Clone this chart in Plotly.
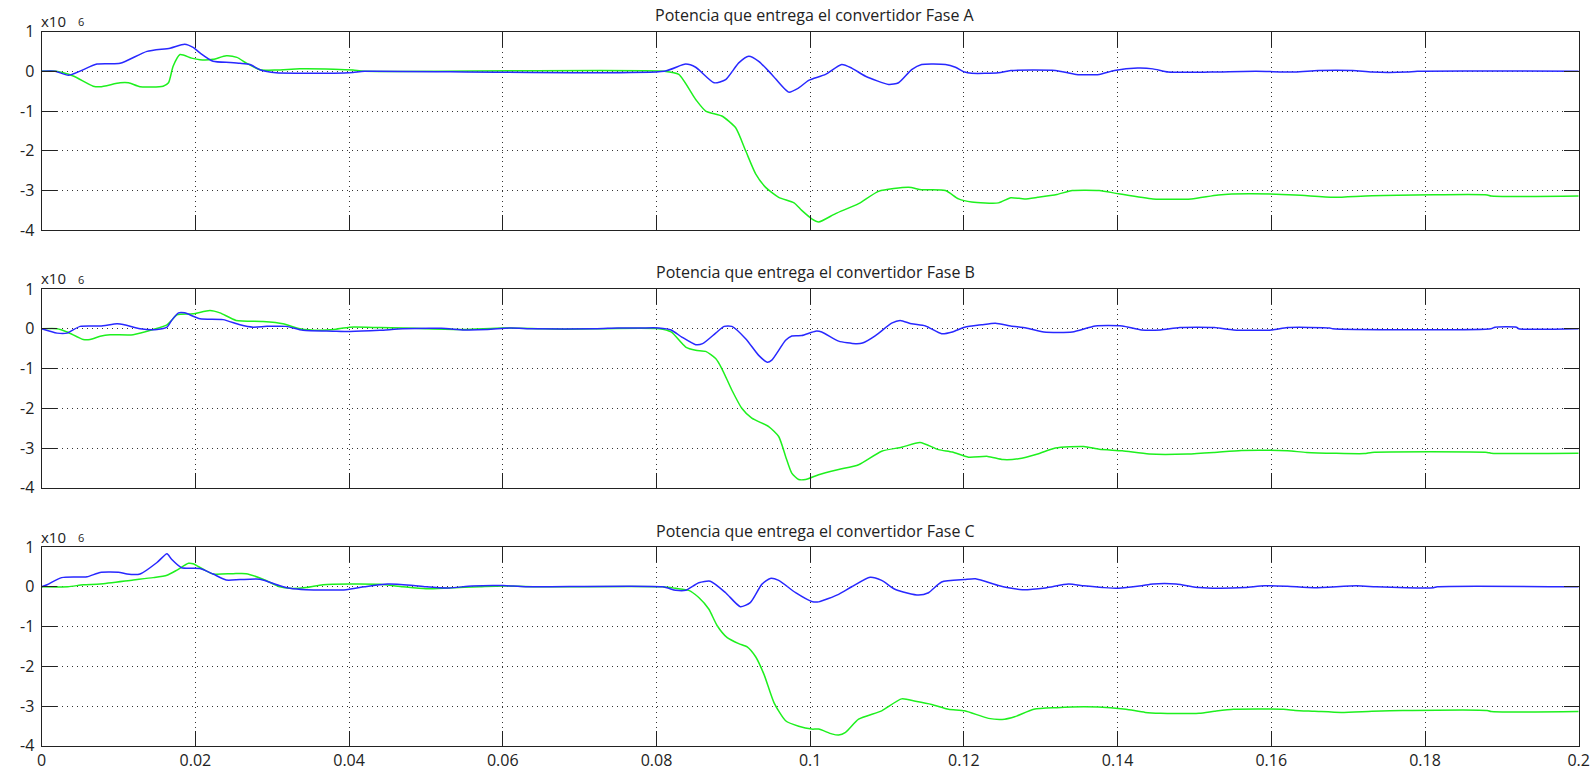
import plotly.graph_objects as go

# Time axis ticks (s)
x_ticks = [0, 0.02, 0.04, 0.06, 0.08, 0.10, 0.12, 0.14, 0.16, 0.18, 0.20]
x_tick_labels = ["0", "0.02", "0.04", "0.06", "0.08", "0.1", "0.12", "0.14", "0.16", "0.18", "0.2"]
y_ticks = [1, 0, -1, -2, -3, -4]
y_tick_labels = ["1", "0", "-1", "-2", "-3", "-4"]

titles = [
    "Potencia que entrega el convertidor Fase A",
    "Potencia que entrega el convertidor Fase B",
    "Potencia que entrega el convertidor Fase C",
]

# ---- Fase A (values in units of 10^6) ----
ta_blue = [0, 0.00175, 0.0035, 0.0072, 0.0102, 0.0137, 0.0167, 0.0186, 0.0197, 0.0206, 0.0223,
           0.0245, 0.0258, 0.0271, 0.0284, 0.0305, 0.0336, 0.038, 0.0405, 0.042, 0.081,
           0.0838, 0.0851, 0.0875, 0.089, 0.0907, 0.092, 0.0933, 0.095, 0.0972, 0.0985,
           0.0998, 0.102, 0.1041, 0.1054, 0.1072, 0.1102, 0.1115, 0.1132, 0.1145, 0.1176,
           0.1189, 0.1201, 0.121, 0.1245, 0.1261, 0.1319, 0.1346, 0.1376, 0.1396, 0.1426,
           0.1446, 0.1466, 0.1521, 0.158, 0.1631, 0.1661, 0.1706, 0.1731, 0.1776, 0.179, 0.2]
pa_blue = [0, 0.0, -0.1, 0.18, 0.2, 0.5, 0.58, 0.68, 0.6, 0.46, 0.25,
           0.22, 0.2, 0.17, 0.04, -0.04, -0.05, -0.05, -0.03, 0, 0,
           0.18, 0.1, -0.29, -0.21, 0.21, 0.375, 0.25, -0.08, -0.525, -0.42,
           -0.23, -0.08, 0.17, 0.08, -0.125, -0.33, -0.29, 0.04, 0.17, 0.17,
           0.1, -0.02, -0.05, -0.04, 0.02, 0.02, -0.08, -0.08, 0.02, 0.08,
           0.06, -0.02, -0.02, 0, -0.02, 0.02, 0.02, -0.02, -0.02, 0, 0]

ta_green = [0, 0.0019, 0.0041, 0.0067, 0.0076, 0.0102, 0.0113, 0.0128, 0.0158, 0.0165, 0.0171,
            0.018, 0.0195, 0.0206, 0.0223, 0.024, 0.0254, 0.0266, 0.0284, 0.0305, 0.0336,
            0.038, 0.0405, 0.042, 0.081, 0.0829, 0.0851, 0.0864, 0.0885, 0.0903, 0.0916,
            0.0929, 0.0942, 0.0959, 0.0979, 0.0989, 0.1002, 0.1011, 0.1033, 0.1063, 0.1089,
            0.1128, 0.1145, 0.1176, 0.1193, 0.121, 0.1245, 0.1261, 0.1279, 0.1296, 0.1321,
            0.1341, 0.1376, 0.1401, 0.1446, 0.1496, 0.1531, 0.1571, 0.1631, 0.1681, 0.1731,
            0.1881, 0.1886, 0.2]
pa_green = [0, 0, -0.12, -0.375, -0.39, -0.29, -0.29, -0.39, -0.375, -0.29, 0.125,
            0.42, 0.33, 0.29, 0.3, 0.39, 0.35, 0.21, 0.04, 0.03, 0.06,
            0.05, 0.03, 0, 0, -0.08, -0.71, -1.0, -1.125, -1.42, -2.0,
            -2.58, -2.92, -3.17, -3.31, -3.5, -3.71, -3.79, -3.58, -3.33, -3.02,
            -2.92, -2.98, -3.0, -3.21, -3.29, -3.31, -3.18, -3.21, -3.17, -3.1,
            -3.0, -3.0, -3.08, -3.21, -3.21, -3.11, -3.08, -3.11, -3.17, -3.13,
            -3.11, -3.14, -3.14]

# ---- Fase B ----
tb_blue = [0, 0.002, 0.0033, 0.005, 0.0076, 0.0098, 0.0106, 0.0128, 0.015, 0.0163, 0.0169,
           0.0178, 0.0186, 0.0206, 0.0236, 0.0258, 0.0275, 0.0293, 0.0318, 0.034, 0.0379,
           0.0401, 0.044, 0.047, 0.052, 0.055, 0.058, 0.061, 0.064, 0.072, 0.075, 0.078,
           0.0803, 0.0819, 0.0833, 0.0851, 0.086, 0.0877, 0.0888, 0.0898, 0.0916, 0.0933,
           0.0944, 0.095, 0.0968, 0.0976, 0.0989, 0.1007, 0.1015, 0.1037, 0.1059, 0.1068,
           0.1085, 0.1106, 0.1117, 0.1132, 0.115, 0.1171, 0.1185, 0.1201, 0.1223, 0.1241,
           0.1261, 0.1281, 0.1304, 0.1341, 0.1371, 0.1406, 0.1431, 0.1456, 0.1481, 0.1526,
           0.1551, 0.1601, 0.1621, 0.1676, 0.168, 0.1886, 0.1891, 0.1919, 0.1922, 0.2]
pb_blue = [0, -0.11, -0.11, 0.06, 0.07, 0.125, 0.11, 0, -0.02, 0.04, 0.21,
           0.4, 0.4, 0.25, 0.23, 0.1, 0.04, 0.06, 0.06, -0.04, -0.06,
           -0.07, -0.04, 0, 0.01, -0.03, -0.02, 0.02, 0, 0, 0.02, 0.02,
           0.02, -0.03, -0.21, -0.4, -0.375, -0.11, 0.06, 0.06, -0.25, -0.67,
           -0.84, -0.79, -0.29, -0.18, -0.17, -0.06, -0.08, -0.31, -0.375, -0.36,
           -0.17, 0.14, 0.21, 0.125, 0.07, -0.125, -0.08, 0.04, 0.1, 0.14,
           0.07, 0.02, -0.08, -0.08, 0.07, 0.07, -0.03, -0.03, 0.03, 0.03,
           -0.03, -0.03, 0.03, 0.02, 0, 0, 0.04, 0.04, 0, 0]

tb_green = [0, 0.002, 0.0033, 0.0054, 0.0063, 0.0076, 0.0089, 0.0119, 0.0145, 0.0163, 0.0169,
            0.0176, 0.0197, 0.0219, 0.0232, 0.0253, 0.0288, 0.0314, 0.0336, 0.0362, 0.038,
            0.0401, 0.044, 0.047, 0.05, 0.055, 0.06, 0.065, 0.068, 0.072, 0.0803, 0.0819,
            0.0838, 0.0851, 0.0864, 0.0877, 0.0885, 0.0898, 0.0911, 0.0924, 0.0946, 0.0959,
            0.0968, 0.0976, 0.0985, 0.0994, 0.1011, 0.1037, 0.1063, 0.1093, 0.1119, 0.1143,
            0.1167, 0.1185, 0.1206, 0.1231, 0.1251, 0.1271, 0.1296, 0.1319, 0.1356, 0.1376,
            0.1406, 0.1441, 0.1491, 0.1526, 0.1561, 0.1621, 0.1646, 0.1721, 0.1731, 0.1881,
            0.1886, 0.2]
pb_green = [0, 0, -0.08, -0.27, -0.27, -0.19, -0.15, -0.15, -0.02, 0.1, 0.21,
            0.35, 0.375, 0.46, 0.4, 0.21, 0.18, 0.125, 0, -0.04, -0.02,
            0.04, 0.03, 0.02, 0, -0.02, 0.02, 0, -0.01, 0, 0, -0.08,
            -0.46, -0.54, -0.57, -0.75, -1.0, -1.54, -2.0, -2.25, -2.46, -2.71,
            -3.21, -3.63, -3.79, -3.79, -3.67, -3.54, -3.42, -3.08, -2.98, -2.86,
            -3.04, -3.1, -3.23, -3.21, -3.29, -3.27, -3.15, -3.0, -2.96, -3.03,
            -3.07, -3.15, -3.15, -3.11, -3.06, -3.07, -3.11, -3.14, -3.11, -3.11,
            -3.13, -3.13]

# ---- Fase C ----
tc_blue = [0, 0.0007, 0.0026, 0.0059, 0.0076, 0.0102, 0.0111, 0.0128, 0.015, 0.0163, 0.0169,
           0.0182, 0.0206, 0.0223, 0.024, 0.0258, 0.0284, 0.031, 0.0323, 0.0344, 0.0396,
           0.042, 0.045, 0.048, 0.05, 0.053, 0.056, 0.06, 0.063, 0.0808, 0.0825, 0.0838,
           0.0855, 0.087, 0.089, 0.0909, 0.0922, 0.0937, 0.0948, 0.0959, 0.0981, 0.1002,
           0.1011, 0.1037, 0.1054, 0.1078, 0.1093, 0.1111, 0.1141, 0.1154, 0.1171, 0.1201,
           0.1215, 0.1245, 0.1256, 0.1276, 0.1306, 0.1336, 0.1356, 0.1381, 0.1401, 0.1431,
           0.1446, 0.1476, 0.1506, 0.1531, 0.1566, 0.1591, 0.1621, 0.1656, 0.1711, 0.1736,
           0.1776, 0.1811, 0.1816, 0.2]
pc_blue = [0, 0.05, 0.23, 0.25, 0.36, 0.36, 0.32, 0.32, 0.61, 0.83, 0.69,
           0.48, 0.46, 0.32, 0.17, 0.18, 0.19, 0.025, -0.04, -0.075, -0.075,
           0, 0.07, 0.04, 0, -0.03, 0.02, 0.03, 0, 0, -0.09, -0.09,
           0.1, 0.14, -0.15, -0.5, -0.4, 0.06, 0.21, 0.16, -0.15, -0.37,
           -0.38, -0.19, 0, 0.24, 0.16, -0.07, -0.21, -0.15, 0.12, 0.18,
           0.2, 0.03, -0.02, -0.075, -0.03, 0.07, 0.025, -0.02, -0.04, 0.025,
           0.07, 0.07, -0.02, -0.04, -0.02, 0.025, 0.01, -0.025, 0.025, 0,
           -0.025, -0.025, 0, 0]

tc_green = [0, 0.0034, 0.0054, 0.0076, 0.0119, 0.0145, 0.0163, 0.0176, 0.0191, 0.0197, 0.021,
            0.0223, 0.0249, 0.0266, 0.0288, 0.031, 0.0323, 0.0344, 0.0366, 0.0401, 0.044,
            0.047, 0.05, 0.053, 0.057, 0.06, 0.064, 0.0808, 0.0825, 0.0842, 0.0855, 0.0868,
            0.0879, 0.0892, 0.0907, 0.0918, 0.0929, 0.094, 0.0953, 0.0968, 0.0985, 0.1002,
            0.1011, 0.1028, 0.1037, 0.1046, 0.1063, 0.1093, 0.1119, 0.1137, 0.1158, 0.118,
            0.1201, 0.1232, 0.1253, 0.1266, 0.1291, 0.1321, 0.1356, 0.1391, 0.1411, 0.1436,
            0.1456, 0.1506, 0.1526, 0.1551, 0.1616, 0.1631, 0.1656, 0.1691, 0.1731, 0.1771,
            0.1881, 0.1886, 0.2]
pc_green = [0, 0, 0.05, 0.07, 0.17, 0.23, 0.29, 0.42, 0.59, 0.58, 0.44,
            0.32, 0.33, 0.33, 0.19, 0, -0.04, -0.02, 0.05, 0.07, 0.06,
            0, -0.05, -0.03, 0, 0.02, 0, 0, -0.04, -0.09, -0.27, -0.56,
            -0.98, -1.28, -1.43, -1.51, -1.76, -2.21, -2.92, -3.37, -3.51, -3.58,
            -3.58, -3.7, -3.73, -3.66, -3.33, -3.12, -2.82, -2.88, -2.96, -3.08,
            -3.12, -3.31, -3.33, -3.27, -3.08, -3.04, -3.02, -3.04, -3.08, -3.16,
            -3.18, -3.18, -3.13, -3.08, -3.08, -3.11, -3.13, -3.16, -3.13, -3.11,
            -3.11, -3.14, -3.14]

BLUE = "rgb(40,40,255)"
GREEN = "rgb(30,240,30)"
INK = "#222222"
FONT = "Open Sans"

W, H = 1594, 772
plot_left, plot_right = 41.7, 1578.7
panel_tops = [31.5, 289.0, 547.0]
panel_height = 198.8

series = [
    (ta_blue, pa_blue, ta_green, pa_green),
    (tb_blue, pb_blue, tb_green, pb_green),
    (tc_blue, pc_blue, tc_green, pc_green),
]

fig = go.Figure()
layout = dict(
    width=W, height=H,
    margin=dict(l=0, r=0, t=0, b=0),
    paper_bgcolor="white", plot_bgcolor="white",
    showlegend=False,
    font=dict(family=FONT, color=INK, size=16),
    annotations=[],
)

xdom = [plot_left / W, plot_right / W]
for i, (tb, pb, tg, pg) in enumerate(series):
    n = "" if i == 0 else str(i + 1)
    fig.add_trace(go.Scatter(x=tg, y=pg, mode="lines", line=dict(color=GREEN, width=1.5, shape="spline", smoothing=0.6),
                             xaxis="x" + n, yaxis="y" + n, hoverinfo="skip"))
    fig.add_trace(go.Scatter(x=tb, y=pb, mode="lines", line=dict(color=BLUE, width=1.5, shape="spline", smoothing=0.6),
                             xaxis="x" + n, yaxis="y" + n, hoverinfo="skip"))

    top = panel_tops[i]
    bottom = top + panel_height
    ydom = [1 - bottom / H, 1 - top / H]
    common = dict(
        showline=True, linecolor=INK, linewidth=1.3, mirror="ticks",
        ticks="inside", ticklen=15, tickwidth=1.3, tickcolor=INK,
        showgrid=True, gridcolor="#333333", gridwidth=1, griddash="1px,4px",
        zeroline=False, automargin=False, fixedrange=True,
        tickfont=dict(family=FONT, size=16, color=INK),
    )
    layout["xaxis" + n] = dict(
        common, domain=xdom, range=[0, 0.2], tickmode="array",
        tickvals=x_ticks, ticktext=x_tick_labels,
        showticklabels=(i == 2), anchor="y" + n,
    )
    layout["yaxis" + n] = dict(
        common, domain=ydom, range=[-4, 1], tickmode="array",
        tickvals=y_ticks, ticktext=y_tick_labels, anchor="x" + n,
        ticklabelstandoff=3,
    )
    # panel title
    layout["annotations"].append(dict(
        text=titles[i], xref="paper", yref="paper",
        x=815 / W, y=1 - (top - 16.5) / H,
        xanchor="center", yanchor="middle", showarrow=False,
        font=dict(family=FONT, size=16, color=INK),
    ))
    # multiplier label
    layout["annotations"].append(dict(
        text="x10", xref="paper", yref="paper",
        x=39 / W, y=1 - (top - 10.5) / H, xanchor="left", yanchor="middle",
        showarrow=False, font=dict(family=FONT, size=15, color=INK),
    ))
    layout["annotations"].append(dict(
        text="6", xref="paper", yref="paper",
        x=76 / W, y=1 - (top - 9.5) / H, xanchor="left", yanchor="middle",
        showarrow=False, font=dict(family=FONT, size=11, color=INK),
    ))

fig.update_layout(**layout)
fig.write_html("out.html")
